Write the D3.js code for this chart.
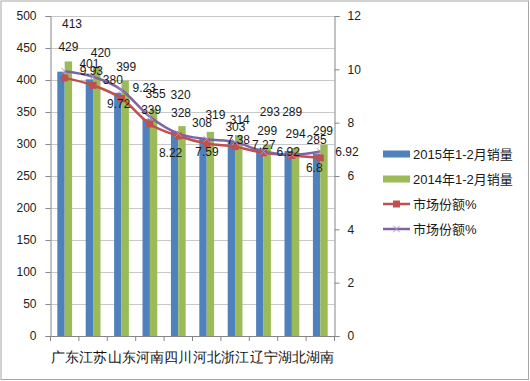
<!DOCTYPE html>
<html><head><meta charset="utf-8">
<script src="https://cdn.jsdelivr.net/npm/d3@7"></script>
<style>
html,body{margin:0;padding:0;background:#fff;}
svg{display:block;font-family:"Liberation Sans","Noto Sans CJK SC",sans-serif;}
</style></head>
<body><svg id="c" width="530" height="381"></svg>
<script>
const categories = ["广东","江苏","山东","河南","四川","河北","浙江","辽宁","湖北","湖南"];
const sales2015 = [413,401,380,339,320,308,303,293,289,285];
const sales2014 = [429,420,399,355,328,319,314,299,294,299];
const share2015 = [9.68,9.40,8.91,7.95,7.50,7.22,7.10,6.87,6.77,6.68];
const share2014 = [9.93,9.72,9.23,8.22,7.59,7.38,7.27,6.92,6.8,6.92];
const leftTicks = [0,50,100,150,200,250,300,350,400,450,500];
const rightTicks = [0,2,4,6,8,10,12];
const seriesNames = ["2015年1-2月销量","2014年1-2月销量","市场份额%","市场份额%"];

// layout: manual data-label nudges (px) as placed in the original chart
const blueLabelNudge = [[11,-34],[0,-1],[-5,1],[5,5],[6,-22],[-1,-2],[4,-1],[10,-22],[4,-25],[0,0]];
const greenLabelNudge = [[0,0],[4,0],[1,0],[2,-1],[-1,1],[5,-3],[1,-1],[0,0],[0,0],[-1,0]];
const purpleLabelNudge = [[1,0],[0,27],[-3,-2],[-5,36],[3,18],[6,1],[3,3],[-1,0],[0,13],[1,0]];

const C = {blue:"#4f81bd", green:"#9bbb59", red:"#c0504d", purple:"#8064a2", axis:"#868686", grid:"#c8c8c8"};
const svg = d3.select("#c");
const L = 50.5, R = 334.5, T = 16, B = 336;

const x = d3.scaleBand().domain(categories).range([L, R]).padding(0);
const yL = d3.scaleLinear().domain([0,500]).range([B, T]);
const yR = d3.scaleLinear().domain([0,12]).range([B, T]);
const bw = x.bandwidth()*0.26;
const cx = c => x(c) + x.bandwidth()/2;

// outer border
svg.append("rect").attr("x",1).attr("y",1).attr("width",527.5).attr("height",378.5)
  .attr("fill","none").attr("stroke","#a6a6a6").attr("stroke-width",1);

// gridlines
svg.append("g").selectAll("line").data(leftTicks.filter(d=>d>0)).join("line")
  .attr("x1",L).attr("x2",R).attr("y1",d=>Math.round(yL(d))+0.5).attr("y2",d=>Math.round(yL(d))+0.5)
  .attr("stroke",C.grid).attr("stroke-width",1);

// bars
svg.append("g").selectAll("rect").data(categories).join("rect")
  .attr("x",(c)=>cx(c)-bw).attr("width",bw)
  .attr("y",(c,i)=>yL(sales2015[i])).attr("height",(c,i)=>B-yL(sales2015[i]))
  .attr("fill",C.blue);
svg.append("g").selectAll("rect").data(categories).join("rect")
  .attr("x",(c)=>cx(c)).attr("width",bw)
  .attr("y",(c,i)=>yL(sales2014[i])).attr("height",(c,i)=>B-yL(sales2014[i]))
  .attr("fill",C.green);

// axes
const axL = svg.append("g").attr("transform",`translate(${L},0)`)
  .call(d3.axisLeft(yL).tickValues(leftTicks).tickSize(5).tickPadding(9).tickFormat(d3.format("d")));
const axR = svg.append("g").attr("transform",`translate(${R},0)`)
  .call(d3.axisRight(yR).tickValues(rightTicks).tickSize(5).tickPadding(8).tickFormat(d3.format("d")));
const axB = svg.append("g").attr("transform",`translate(0,${B})`)
  .call(d3.axisBottom(x).tickSize(0).tickPadding(16));
[axL,axR,axB].forEach(a=>{
  a.select(".domain").attr("stroke",C.axis);
  a.selectAll(".tick line").attr("stroke",C.axis);
  a.selectAll("text").attr("fill","#222").attr("font-size",12);
});
axB.selectAll("text").attr("font-size",14).attr("fill","#111");
axB.select(".domain").attr("d",`M${L},0.5H${R}`);
// category boundary ticks
const bounds = categories.map(c=>x(c)).concat([R]);
svg.append("g").selectAll("line").data(bounds).join("line")
  .attr("x1",d=>d).attr("x2",d=>d).attr("y1",B).attr("y2",B+5).attr("stroke",C.axis);

// lines
const curve = d3.curveCardinal.tension(0);
const lineR = d3.line().x((d,i)=>cx(categories[i])).y(d=>yR(d)).curve(curve);
svg.append("path").datum(share2015).attr("d",lineR).attr("fill","none")
  .attr("stroke",C.red).attr("stroke-width",2.5);
svg.append("path").datum(share2014).attr("d",lineR).attr("fill","none")
  .attr("stroke",C.purple).attr("stroke-width",2.5);
svg.append("g").selectAll("rect").data(share2015).join("rect")
  .attr("x",(d,i)=>cx(categories[i])-3.5).attr("y",d=>yR(d)-3.5)
  .attr("width",7).attr("height",7).attr("fill",C.red);
const xSym = d3.symbol(d3.symbolX || d3.symbolCross, 30);
svg.append("g").selectAll("path").data(share2014).join("path")
  .attr("transform",(d,i)=>`translate(${cx(categories[i])},${yR(d)})`)
  .attr("d",xSym).attr("fill","none").attr("stroke","#a995c8").attr("stroke-width",1);

// data labels
const lab = svg.append("g").attr("font-size",12).attr("fill","#1a1a1a");
lab.selectAll("text.b").data(sales2015).join("text").attr("class","b")
  .attr("x",(d,i)=>cx(categories[i])-bw/2+blueLabelNudge[i][0]).attr("y",(d,i)=>yL(d)-10+blueLabelNudge[i][1])
  .attr("text-anchor","middle").text(d=>d);
lab.selectAll("text.g").data(sales2014).join("text").attr("class","g")
  .attr("x",(d,i)=>cx(categories[i])+bw/2+greenLabelNudge[i][0]).attr("y",(d,i)=>yL(d)-10+greenLabelNudge[i][1])
  .attr("text-anchor","middle").text(d=>d);
lab.selectAll("text.p").data(share2014).join("text").attr("class","p")
  .attr("x",(d,i)=>cx(categories[i])+14+purpleLabelNudge[i][0]).attr("y",(d,i)=>yR(d)+purpleLabelNudge[i][1]).attr("dy","0.35em")
  .text(d=>d);

// legend
const lg = svg.append("g").attr("font-size",13).attr("fill","#1a1a1a");
const ly = [154,179,204,229];
lg.append("rect").attr("x",383).attr("y",ly[0]-3.5).attr("width",27).attr("height",7).attr("fill",C.blue);
lg.append("rect").attr("x",383).attr("y",ly[1]-3.5).attr("width",27).attr("height",7).attr("fill",C.green);
lg.append("line").attr("x1",383).attr("x2",410).attr("y1",ly[2]).attr("y2",ly[2]).attr("stroke",C.red).attr("stroke-width",2.5);
lg.append("rect").attr("x",396.5-3.5).attr("y",ly[2]-3.5).attr("width",7).attr("height",7).attr("fill",C.red);
lg.append("line").attr("x1",383).attr("x2",410).attr("y1",ly[3]).attr("y2",ly[3]).attr("stroke",C.purple).attr("stroke-width",2.5);
lg.append("path").attr("transform",`translate(396.5,${ly[3]})`).attr("d",xSym).attr("fill","none").attr("stroke","#a995c8");
lg.selectAll("text").data(seriesNames).join("text")
  .attr("x",413).attr("y",(d,i)=>ly[i]).attr("dy","0.36em").text(d=>d);
</script></body></html>
